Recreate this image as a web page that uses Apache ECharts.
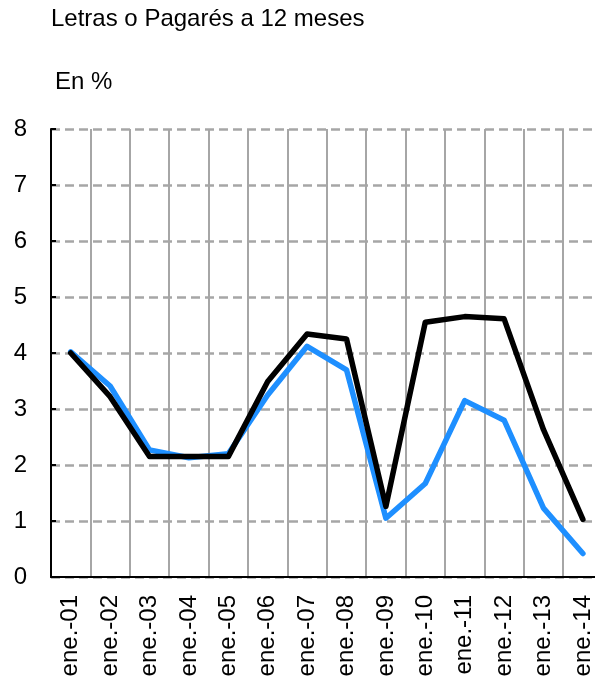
<!DOCTYPE html>
<html>
<head>
<meta charset="utf-8">
<title>Letras o Pagarés a 12 meses</title>
<script src="https://cdn.jsdelivr.net/npm/echarts@6/dist/echarts.min.js"></script>
<style>
  html, body { margin: 0; padding: 0; background: #fff; overflow: hidden; }
  /* the plot runs a few pixels past the right edge of the page, so the canvas is wider than the view */
  #chart { width: 610px; height: 685px; }
</style>
</head>
<body>
<div id="chart"></div>
<script>
// Categories: January of each year
const categories = ['ene.-01', 'ene.-02', 'ene.-03', 'ene.-04', 'ene.-05', 'ene.-06', 'ene.-07',
                    'ene.-08', 'ene.-09', 'ene.-10', 'ene.-11', 'ene.-12', 'ene.-13', 'ene.-14'];

// 12-month bills / notes yield, in %
const blueSeries  = [4.02, 3.41, 2.27, 2.13, 2.20, 3.25, 4.12, 3.70, 1.05, 1.67, 3.15, 2.80, 1.23, 0.42];
const blackSeries = [4.00, 3.22, 2.15, 2.15, 2.15, 3.49, 4.34, 4.25, 1.26, 4.55, 4.65, 4.61, 2.63, 1.03];

// Y-axis range
const yMin = 0;
const yMax = 8;
const yStep = 1;

const FONT = '"Liberation Sans", Arial, sans-serif';

const chart = echarts.init(document.getElementById('chart'), null, { renderer: 'canvas' });

chart.setOption({
  animation: false,
  backgroundColor: '#ffffff',
  title: [
    {
      text: 'Letras o Pagarés a 12 meses',
      left: 51, top: 7,
      padding: 0,
      textStyle: { fontFamily: FONT, fontSize: 24, fontWeight: 'normal', color: '#000' }
    },
    {
      text: 'En %',
      left: 55, top: 70,
      padding: 0,
      textStyle: { fontFamily: FONT, fontSize: 24, fontWeight: 'normal', color: '#000' }
    }
  ],
  grid: { left: 51, top: 129, width: 551.6, height: 448, containLabel: false },
  xAxis: {
    type: 'category',
    data: categories,
    boundaryGap: true,
    axisLine: { show: true, lineStyle: { color: '#000', width: 2 } },
    axisTick: { show: false },
    axisLabel: {
      rotate: 90, interval: 0, margin: 18,
      fontFamily: FONT, fontSize: 24, color: '#000'
    },
    splitLine: { show: true, interval: 0, lineStyle: { color: '#a6a6a6', width: 2, type: 'solid' } }
  },
  yAxis: {
    type: 'value',
    min: yMin, max: yMax, interval: yStep,
    axisLine: { show: true, lineStyle: { color: '#000', width: 2 } },
    axisTick: { show: true, inside: true, length: 5, lineStyle: { color: '#000', width: 2 } },
    axisLabel: { margin: 24, fontFamily: FONT, fontSize: 24, color: '#000' },
    splitLine: { show: true, lineStyle: { color: '#a6a6a6', width: 2.5, type: [9, 5] } }
  },
  series: [
    {
      type: 'line',
      data: blueSeries,
      symbol: 'none',
      lineStyle: { color: '#1e8fff', width: 5.5, join: 'round', cap: 'round' },
      z: 3
    },
    {
      type: 'line',
      data: blackSeries,
      symbol: 'none',
      lineStyle: { color: '#000000', width: 5.5, join: 'round', cap: 'round' },
      z: 4
    }
  ]
});
</script>
</body>
</html>
